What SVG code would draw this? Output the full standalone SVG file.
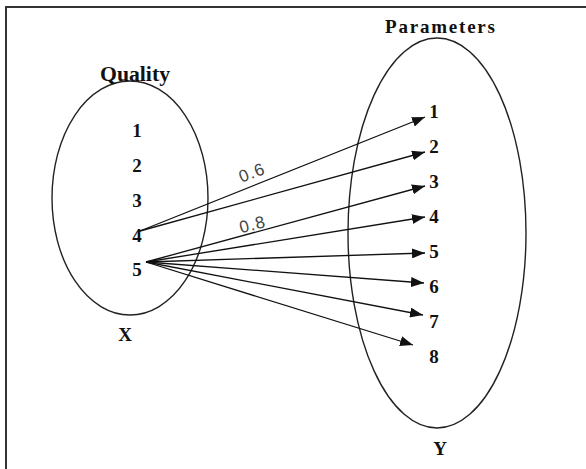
<svg xmlns="http://www.w3.org/2000/svg" width="586" height="469" viewBox="0 0 586 469">
<style>
.lbl{font-family:"Liberation Serif","Times New Roman",serif;font-weight:bold;font-size:19px;fill:#111;}
.num{font-family:"Liberation Serif","Times New Roman",serif;font-weight:bold;font-size:19px;fill:#111;text-anchor:middle;}
.w{font-family:"Liberation Sans",Arial,sans-serif;font-size:17px;fill:#444;text-anchor:middle;letter-spacing:1px;}
.set{fill:none;stroke:#222;stroke-width:1.4;}
.edge{stroke:#111;stroke-width:1.3;fill:none;marker-end:url(#ah);}
</style>
<defs>
<marker id="ah" markerUnits="userSpaceOnUse" markerWidth="14" markerHeight="10" refX="13" refY="5" orient="auto">
<path d="M0,0 L13,5 L0,10 Z" fill="#111"/>
</marker>
</defs>
<rect width="586" height="469" fill="#fff"/>
<g id="frame">
<path d="M6,469 V7 H586" fill="none" stroke="#333" stroke-width="2"/>
</g>
<g id="X">
<ellipse class="set" cx="130" cy="198" rx="78" ry="117"/>
<text class="lbl" x="100" y="81" textLength="70" lengthAdjust="spacingAndGlyphs" style="font-size:20px">Quality</text>
<text class="num" x="137" y="137">1</text>
<text class="num" x="137" y="172">2</text>
<text class="num" x="137" y="207">3</text>
<text class="num" x="137" y="242">4</text>
<text class="num" x="137" y="276">5</text>
<text class="num" x="125" y="341">X</text>
</g>
<g id="Y">
<ellipse class="set" cx="437" cy="233" rx="89" ry="195"/>
<text class="lbl" x="385" y="33" textLength="110" lengthAdjust="spacing" style="font-size:19px">Parameters</text>
<text class="num" x="434" y="118">1</text>
<text class="num" x="434" y="153">2</text>
<text class="num" x="434" y="188">3</text>
<text class="num" x="434" y="223">4</text>
<text class="num" x="434" y="258">5</text>
<text class="num" x="434" y="293">6</text>
<text class="num" x="434" y="328">7</text>
<text class="num" x="434" y="363">8</text>
<text class="num" x="440" y="455">Y</text>
</g>
<g id="connectors">
<line class="edge" x1="140" y1="231" x2="425" y2="117"/>
<line class="edge" x1="140" y1="231" x2="425" y2="152"/>
<line class="edge" x1="146" y1="262" x2="425" y2="186"/>
<line class="edge" x1="146" y1="262" x2="425" y2="217"/>
<line class="edge" x1="146" y1="262" x2="425" y2="253"/>
<line class="edge" x1="146" y1="262" x2="424" y2="283"/>
<line class="edge" x1="146" y1="262" x2="423" y2="315"/>
<line class="edge" x1="146" y1="262" x2="413" y2="345"/>
<text class="w" transform="translate(254,178) rotate(-21)">0.6</text>
<text class="w" transform="translate(254,230) rotate(-14)">0.8</text>
</g>
</svg>
